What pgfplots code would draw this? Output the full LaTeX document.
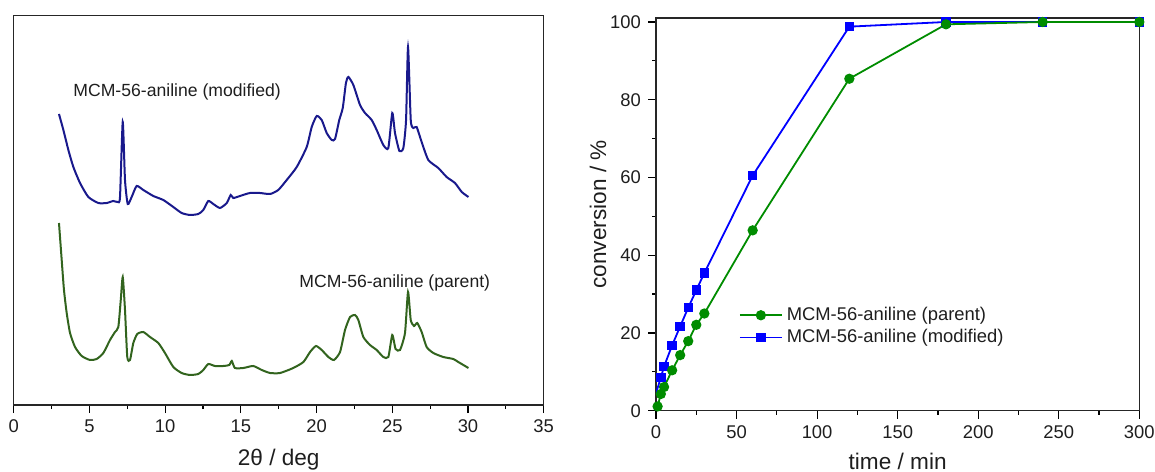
\documentclass[border=0pt]{standalone}
\usepackage{fontspec}
\setmainfont{Liberation Sans}
\usepackage{pgfplots}
\pgfplotsset{compat=1.18}
\definecolor{xrdblue}{RGB}{25,25,140}
\definecolor{xrdgreen}{RGB}{50,100,30}
\definecolor{kblue}{RGB}{0,0,255}
\definecolor{kgreen}{RGB}{0,140,0}
\definecolor{txt}{RGB}{30,30,30}
\begin{document}
\begin{tikzpicture}[x=1pt,y=1pt]
\begin{axis}[
  at={(6.85pt,33pt)}, anchor=south west, scale only axis,
  width=265pt, height=194.65pt,
  xmin=0, xmax=35, ymin=0, ymax=389.3,
  xtick={0,5,...,35}, minor xtick={2.5,7.5,...,32.5},
  ytick=\empty,
  tick pos=bottom, tick align=outside,
  major tick length=4pt, minor tick length=2pt,
  tick style={line width=0.6pt, color=black},
  axis line style={line width=0.7pt, color=black!85},
  ticklabel style={font=\fontsize{9.2}{11}\selectfont, text=txt},
  /pgf/number format/assume math mode=true,
  xlabel={2θ / deg},
  xlabel style={font=\fontsize{11.3}{13}\selectfont, text=txt, at={(axis description cs:0.5,-0.1413)}, anchor=center},
]
\addplot[xrdblue, line width=1pt, smooth, tension=0.35] coordinates {
(2.99,291) (3.28,275) (3.61,255) (3.94,238) (4.38,222) (4.93,208) (5.59,202) (6.14,202) (6.58,204) (6.87,203)
(7.02,208) (7.20,283) (7.35,225) (7.53,201) (7.79,208) (8.12,219) (8.56,215) (9.22,209) (9.88,205) (10.54,198)
(11.09,192) (11.64,190) (12.19,191) (12.52,195) (12.85,204) (13.18,201) (13.62,197) (14.07,202) (14.33,210) (14.50,207)
(14.94,209) (15.60,212) (16.26,212) (16.93,211) (17.47,215) (18.03,225) (18.69,238) (19.35,258) (19.68,278) (20.01,289)
(20.34,285) (20.67,272) (21.00,265) (21.22,266) (21.50,285) (21.73,297) (21.94,322) (22.10,328) (22.43,320) (22.87,300)
(23.20,292) (23.64,285) (23.97,275) (24.41,260) (24.74,257) (25.00,292) (25.18,272) (25.47,254) (25.73,257) (25.91,285)
(26.04,358) (26.22,285) (26.39,277) (26.61,278) (26.94,263) (27.38,245) (28.04,237) (28.59,228) (29.14,222) (29.59,213)
(30.03,208)
};
\addplot[xrdgreen, line width=1pt, smooth, tension=0.35] coordinates {
(2.99,182) (3.17,145) (3.32,115) (3.50,92) (3.72,72) (4.05,58) (4.49,49) (5.04,45) (5.48,46) (5.92,52)
(6.36,65) (6.69,73) (6.91,78) (7.07,105) (7.20,128) (7.35,95) (7.50,48) (7.68,45) (7.90,62) (8.16,71)
(8.56,73) (9.00,68) (9.55,62) (9.99,52) (10.54,38) (11.09,32) (11.64,30) (12.19,31) (12.52,35) (12.85,41)
(13.29,39) (13.84,39) (14.24,40) (14.40,44) (14.61,37) (15.16,37) (15.82,39) (16.38,35) (16.93,32) (17.59,32)
(18.46,37) (19.13,43) (19.57,53) (19.96,59) (20.34,55) (20.78,48) (21.15,45) (21.55,53) (21.88,75) (22.21,88)
(22.54,90) (22.76,85) (23.09,68) (23.53,60) (23.97,55) (24.41,48) (24.74,48) (25.00,70) (25.22,56) (25.51,55)
(25.84,72) (26.04,113) (26.22,85) (26.44,79) (26.65,82) (26.94,73) (27.27,58) (27.71,52) (28.37,48) (29.03,46)
(29.36,43) (30.03,37)
};
\node[anchor=west, text=txt, font=\fontsize{8.8}{10}\selectfont, inner sep=0pt] at (axis cs:3.92,313) {MCM-56-aniline (modified)};
\node[anchor=west, text=txt, font=\fontsize{8.8}{10}\selectfont, inner sep=0pt] at (axis cs:18.84,122) {MCM-56-aniline (parent)};
\end{axis}

\begin{axis}[
  at={(328pt,30.15pt)}, anchor=south west, scale only axis,
  width=241.65pt, height=196.3pt,
  xmin=0, xmax=300, ymin=0, ymax=101,
  xtick={0,50,...,300}, minor xtick={25,75,...,275},
  ytick={0,20,...,100}, minor ytick={10,30,...,90},
  tick pos=left, tick align=outside,
  major tick length=4pt, minor tick length=2pt,
  tick style={line width=0.6pt, color=black},
  axis line style={line width=0.7pt, color=black!85},
  ticklabel style={font=\fontsize{9.2}{11}\selectfont, text=txt},
  /pgf/number format/assume math mode=true,
  xlabel={time / min}, ylabel={conversion / \%},
  xlabel style={font=\fontsize{11.3}{13}\selectfont, text=txt, at={(axis description cs:0.5,-0.128)}, anchor=center},
  ylabel style={font=\fontsize{11.3}{13}\selectfont, text=txt, at={(axis description cs:-0.12,0.5)}, anchor=center, rotate=0},
  reverse legend,
  legend style={draw=none, fill=none, at={(axis cs:50,28.3)}, anchor=north west,
    font=\fontsize{9.2}{11}\selectfont, text=txt, row sep=-1pt, inner sep=1pt},
  legend cell align=left,
  legend image code/.code={\draw[mark indices={2}] plot coordinates {(0pt,0pt) (10.5pt,0pt) (21pt,0pt)};},
]
\addplot[kblue, line width=0.9pt, mark=square*, mark size=1.9pt, mark options={solid, fill=kblue}, mark indices={2,...,13}] coordinates {
(0,4.5) (3,8.5) (5,11.4) (10,16.8) (15,21.7) (20,26.5) (25,31.0) (30,35.4) (60,60.5) (120,98.8) (180,100) (240,100) (300,100)
};
\addlegendentry{MCM-56-aniline (modified)}
\addplot[kgreen, line width=0.9pt, mark=*, mark size=2.1pt, mark options={solid, fill=kgreen}] coordinates {
(1,1.1) (3,4.3) (5,6.1) (10,10.4) (15,14.3) (20,17.9) (25,22.1) (30,25.0) (60,46.4) (120,85.4) (180,99.4) (240,100) (300,100)
};
\addlegendentry{MCM-56-aniline (parent)}
\end{axis}
\pgfresetboundingbox
\useasboundingbox (0,0) rectangle (577.5,235.5);
\end{tikzpicture}
\end{document}
